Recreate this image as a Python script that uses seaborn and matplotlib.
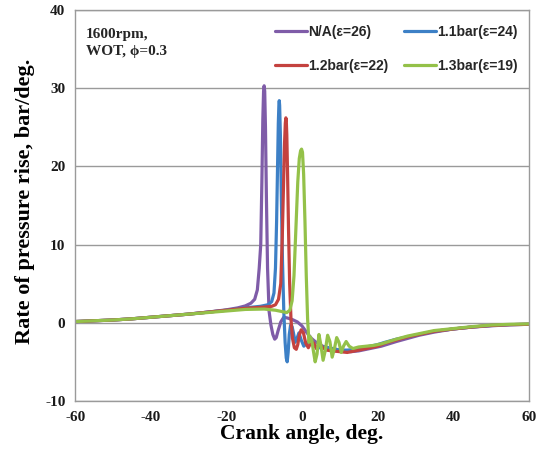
import matplotlib
matplotlib.use("Agg")
import matplotlib.pyplot as plt
import seaborn as sns
import pandas as pd

# crank angle (deg) / rate of pressure rise (bar/deg)
purple_x = [-60, -55, -50, -45, -40, -35, -30, -25, -20, -17, -15, -13.5, -12.5, -11.8, -11.3, -10.9, -10.6, -10.35, -10.15,
            -10.0, -9.85, -9.65, -9.4, -9.1, -8.7, -8.2, -7.7, -7.2, -6.8, -6.3, -5.6, -4.8, -3.8, -2.5, -1.2, 0, 1.2, 2.5, 4,
            5.5, 7, 9, 11, 13, 15, 17, 19, 21, 23, 25, 28, 31, 35, 40, 45, 50, 55, 60]
purple_y = [0.15, 0.25, 0.35, 0.5, 0.7, 0.9, 1.1, 1.35, 1.65, 1.9, 2.15, 2.5, 3.0, 4.2, 7, 10, 18, 26, 29.6,
            30.3, 29.6, 25, 16, 7, 1.5, -0.3, -1.5, -2.1, -1.9, -1.0, 0.1, 0.7, 0.6, 0.4, 0.1, -0.4, -1.2, -2.0, -2.6,
            -3.0, -3.2, -3.4, -3.6, -3.7, -3.6, -3.4, -3.2, -3.0, -2.7, -2.4, -2.0, -1.6, -1.2, -0.8, -0.55, -0.4, -0.25, -0.2]

blue_x = [-60, -55, -50, -45, -40, -35, -30, -25, -20, -15, -11, -9, -8, -7.4, -7.0, -6.7, -6.45, -6.25, -6.1,
          -6.0, -5.9, -5.7, -5.45, -5.15, -4.8, -4.45, -4.15, -3.9, -3.65, -3.35, -3.0, -2.6, -2.2, -1.8, -1.3, -0.8,
          -0.2, 0.5, 1.3, 2.2, 3.2, 4.5, 6, 8, 10, 12, 14, 16, 18, 20, 22, 25, 28, 31, 35, 40, 45, 50, 55, 60]
blue_y = [0.15, 0.25, 0.35, 0.5, 0.7, 0.9, 1.1, 1.35, 1.6, 1.9, 2.1, 2.3, 2.7, 3.8, 7, 13, 20, 25.5, 27.8,
          28.4, 27.8, 24, 16, 8, 1.5, -2.5, -4.5, -5.0, -3.8, -1.5, -0.3, -0.5, -1.4, -2.5, -2.0, -1.3,
          -2.2, -3.0, -2.6, -2.3, -3.0, -3.2, -3.1, -3.3, -3.5, -3.5, -3.4, -3.2, -3.0, -2.8, -2.5, -2.1, -1.8, -1.5,
          -1.1, -0.8, -0.55, -0.35, -0.25, -0.2]

red_x = [-60, -55, -50, -45, -40, -35, -30, -25, -20, -15, -10, -8, -7, -6.2, -5.6, -5.2, -4.85, -4.6, -4.4,
         -4.25, -4.15, -4.0, -3.8, -3.55, -3.25, -2.9, -2.5, -2.0, -1.5, -1.1, -0.7, -0.2, 0.4, 1.0, 1.7, 2.4, 3.1,
         3.8, 4.6, 5.5, 6.5, 8, 10, 12, 14, 16, 18, 20, 22, 25, 28, 31, 35, 40, 45, 50, 55, 60]
red_y = [0.15, 0.25, 0.35, 0.5, 0.7, 0.9, 1.1, 1.35, 1.6, 1.85, 2.0, 2.1, 2.3, 3.0, 5, 11, 18, 23, 25.5,
         26.2, 26.0, 24, 19, 12, 5, 0.5, -2.0, -3.2, -3.4, -2.8, -1.6, -0.9, -1.3, -2.6, -3.2, -2.5, -2.6,
         -3.3, -2.7, -3.2, -3.5, -3.6, -3.7, -3.8, -3.6, -3.4, -3.2, -3.0, -2.6, -2.2, -1.8, -1.5, -1.1, -0.8,
         -0.55, -0.35, -0.25, -0.2]

green_x = [-60, -55, -50, -45, -40, -35, -30, -25, -20, -15, -10, -7, -5, -4, -3.2, -2.6, -2.1, -1.6, -1.1,
           -0.7, -0.35, -0.1, 0.15, 0.45, 0.8, 1.15, 1.5, 1.85, 2.2, 2.6, 3.0, 3.5, 4.0, 4.5, 5.0, 5.6, 6.2, 6.8, 7.4,
           8.0, 8.6, 9.2, 9.8, 10.4, 11.0, 11.7, 12.5, 13.5, 15, 17, 19, 21, 23, 25, 28, 31, 35, 40, 45, 50, 55, 60]
green_y = [0.15, 0.25, 0.35, 0.5, 0.7, 0.9, 1.1, 1.3, 1.5, 1.7, 1.75, 1.6, 1.4, 1.3, 1.6, 2.8, 6, 12, 18,
           21, 22, 22.2, 21.8, 19, 13, 6, 0.5, -2.5, -1.8, -2.2, -3.5, -5.0, -4.0, -1.5, -2.8, -4.8, -3.5, -1.6, -2.4,
           -4.4, -3.3, -1.9, -2.5, -3.8, -3.0, -2.4, -3.0, -3.3, -3.1, -3.0, -2.9, -2.7, -2.4, -2.1, -1.7, -1.4,
           -1.0, -0.75, -0.5, -0.3, -0.2, -0.15]

labels = ["N/A(\u03b5=26)", "1.1bar(\u03b5=24)", "1.2bar(\u03b5=22)", "1.3bar(\u03b5=19)"]
colors = ["#7f5ca8", "#3d80c6", "#c4423f", "#94c149"]

frames = []
for lab, xs, ys in zip(labels, [purple_x, blue_x, red_x, green_x], [purple_y, blue_y, red_y, green_y]):
    frames.append(pd.DataFrame({"ca": xs, "rpr": ys, "case": lab}))
df = pd.concat(frames, ignore_index=True)

sns.set_theme(style="white")
plt.rcParams["axes.unicode_minus"] = False
serif = "Liberation Serif"
sans = "Liberation Sans"

fig = plt.figure(figsize=(5.45, 4.51), dpi=100)
ax = fig.add_axes([0.138, 0.111, 0.832, 0.867])

sns.lineplot(data=df, x="ca", y="rpr", hue="case", hue_order=labels, palette=colors,
             estimator=None, sort=True, linewidth=2.3, ax=ax)

ax.set_xlim(-60, 60)
ax.set_ylim(-10, 40)
ax.set_xticks(range(-60, 61, 20))
ax.set_yticks(range(-10, 41, 10))
ax.yaxis.grid(True, color="#9a9a9a", linewidth=1.0)
ax.set_axisbelow(True)
for s in ax.spines.values():
    s.set_color("#9a9a9a")
    s.set_linewidth(1.0)
ax.tick_params(axis="both", direction="out", length=4, width=1, color="#9a9a9a", pad=3)
for t in ax.get_xticklabels() + ax.get_yticklabels():
    t.set_fontfamily(serif)
    t.set_fontweight("bold")
    t.set_fontsize(11)
    t.set_color("#1a1a1a")

ax.set_xlabel("Crank angle, deg.", fontfamily=serif, fontweight="bold", fontsize=15.5, color="black", labelpad=0)
ax.set_ylabel("Rate of pressure rise, bar/deg.", fontfamily=serif, fontweight="bold", fontsize=16, color="black")
ax.yaxis.set_label_coords(-0.088, 0.51)

ax.text(-57.1, 37.7, "1600rpm,\nWOT, \u03d5=0.3", fontfamily=serif, fontweight="bold", fontsize=11,
        va="top", ha="left", linespacing=1.4)

handles, labs = ax.get_legend_handles_labels()
order = [0, 2, 1, 3]
leg = ax.legend([handles[i] for i in order], [labs[i] for i in order], ncol=2, frameon=False,
                loc="upper left", bbox_to_anchor=(0.4405, 0.962), borderpad=0, borderaxespad=0,
                handlelength=2.3, handletextpad=0.1, columnspacing=1.1, labelspacing=1.45,
                prop={"family": sans, "weight": "bold", "size": 10})
for ln in leg.get_lines():
    ln.set_linewidth(2.3)

fig.savefig("out.png", dpi=100)
